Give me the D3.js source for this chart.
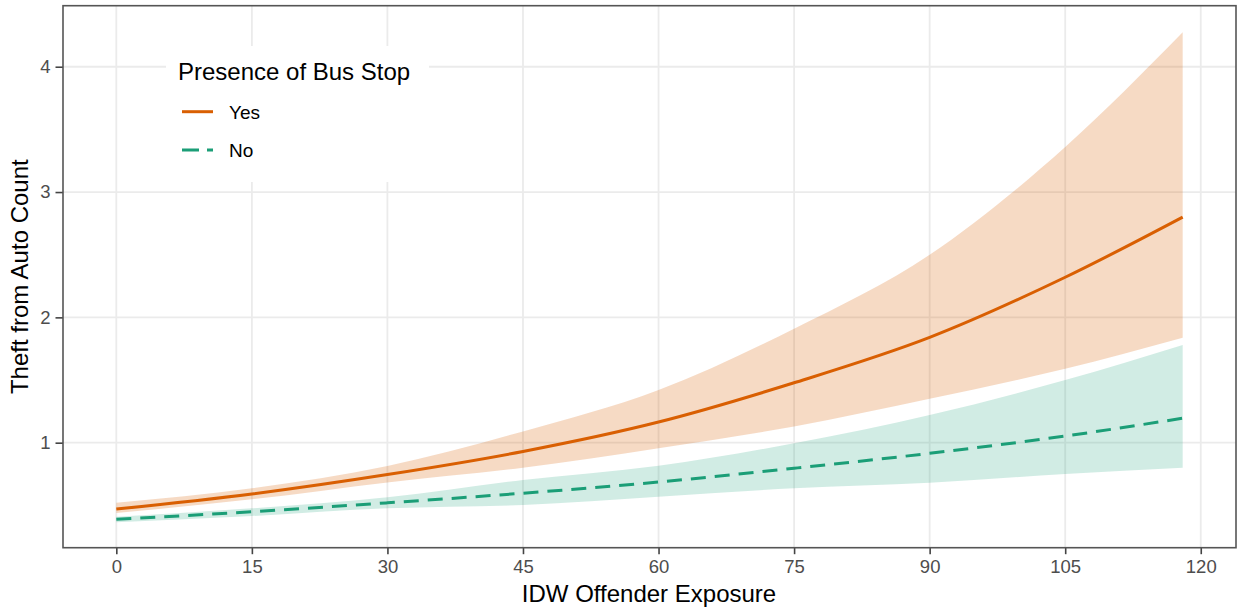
<!DOCTYPE html>
<html>
<head>
<meta charset="utf-8">
<script src="https://cdn.jsdelivr.net/npm/d3@7"></script>
<style>
  html, body { margin: 0; padding: 0; background: #fff; }
  svg { display: block; font-family: "Liberation Sans", Arial, sans-serif; }
</style>
</head>
<body>
<svg id="chart" width="1237" height="609"></svg>
<script>
// Predicted theft-from-auto counts by offender exposure, with 95% bands
const exposure = [0, 15, 30, 45, 60, 75, 90, 105, 118];

const yesFit   = [0.470, 0.591, 0.746, 0.930, 1.165, 1.478, 1.840, 2.320, 2.800];
const yesUpper = [0.521, 0.636, 0.814, 1.090, 1.420, 1.910, 2.500, 3.360, 4.275];
const yesLower = [0.438, 0.548, 0.683, 0.800, 0.956, 1.130, 1.350, 1.590, 1.838];

const noFit    = [0.389, 0.449, 0.520, 0.597, 0.686, 0.796, 0.915, 1.053, 1.195];
const noUpper  = [0.409, 0.476, 0.564, 0.702, 0.816, 0.995, 1.221, 1.500, 1.780];
const noLower  = [0.365, 0.415, 0.476, 0.503, 0.569, 0.636, 0.681, 0.750, 0.800];

const xTicks = [0, 15, 30, 45, 60, 75, 90, 105, 120];
const yTicks = [1, 2, 3, 4];

const legendTitle = "Presence of Bus Stop";
const seriesNames = ["Yes", "No"];
const seriesColors = ["#D95F02", "#1B9E77"];

const svg = d3.select("#chart");
const panel = { left: 63, right: 1236, top: 5.7, bottom: 547.7 };

const x = d3.scaleLinear().domain([-5.9, 123.9]).range([panel.left, panel.right]);
const y = d3.scaleLinear().domain([0.162, 4.487]).range([panel.bottom, panel.top]);

// grid
const grid = svg.append("g");
grid.selectAll("line.v").data(xTicks).join("line")
  .attr("x1", d => x(d)).attr("x2", d => x(d))
  .attr("y1", panel.top).attr("y2", panel.bottom)
  .attr("stroke", "#EBEBEB").attr("stroke-width", 1.8);
grid.selectAll("line.h").data(yTicks).join("line")
  .attr("x1", panel.left).attr("x2", panel.right)
  .attr("y1", d => y(d)).attr("y2", d => y(d))
  .attr("stroke", "#EBEBEB").attr("stroke-width", 1.8);

const rows = (fit, lo, hi) => exposure.map((e, i) => ({ e, fit: fit[i], lo: lo[i], hi: hi[i] }));
const series = [
  { name: "Yes", color: seriesColors[0], data: rows(yesFit, yesLower, yesUpper), dash: null, fillOpacity: 0.23 },
  { name: "No",  color: seriesColors[1], data: rows(noFit, noLower, noUpper),   dash: "15 9", fillOpacity: 0.2 }
];

const area = d3.area().curve(d3.curveMonotoneX)
  .x(d => x(d.e)).y0(d => y(d.lo)).y1(d => y(d.hi));
const line = d3.line().curve(d3.curveMonotoneX)
  .x(d => x(d.e)).y(d => y(d.fit));

svg.append("g").selectAll("path").data(series).join("path")
  .attr("d", s => area(s.data))
  .attr("fill", s => s.color).attr("fill-opacity", s => s.fillOpacity);

svg.append("g").selectAll("path").data(series).join("path")
  .attr("d", s => line(s.data))
  .attr("fill", "none").attr("stroke", s => s.color).attr("stroke-width", 3)
  .attr("stroke-dasharray", s => s.dash);

// axes
const xAxis = svg.append("g").attr("transform", `translate(0,${panel.bottom})`)
  .call(d3.axisBottom(x).tickValues(xTicks).tickSize(6.5).tickPadding(7).tickFormat(d3.format("d")));
const yAxis = svg.append("g").attr("transform", `translate(${panel.left},0)`)
  .call(d3.axisLeft(y).tickValues(yTicks).tickSize(7.5).tickPadding(5).tickFormat(d3.format("d")));
[xAxis, yAxis].forEach(a => {
  a.select(".domain").remove();
  a.selectAll(".tick line").attr("stroke", "#444").attr("stroke-width", 1.6);
  a.selectAll(".tick text").attr("fill", "#4D4D4D").attr("font-size", 18.5)
    .attr("font-family", "'Liberation Sans', Arial, sans-serif");
});
xAxis.selectAll(".tick text").attr("dy", "0.71em").attr("y", 12);

// panel border
svg.append("rect")
  .attr("x", panel.left).attr("y", panel.top)
  .attr("width", panel.right - panel.left).attr("height", panel.bottom - panel.top)
  .attr("fill", "none").attr("stroke", "#555").attr("stroke-width", 1.6);

// axis titles
svg.append("text").attr("x", 649).attr("y", 602).attr("text-anchor", "middle")
  .attr("font-size", 24).attr("fill", "#000").text("IDW Offender Exposure");
svg.append("text").attr("transform", "translate(28,276.7) rotate(-90)").attr("text-anchor", "middle")
  .attr("font-size", 24).attr("fill", "#000").text("Theft from Auto Count");

// legend
const legend = svg.append("g");
legend.append("rect").attr("x", 166).attr("y", 46).attr("width", 263).attr("height", 136).attr("fill", "#fff");
legend.append("text").attr("x", 178).attr("y", 80).attr("font-size", 24).attr("fill", "#000").text(legendTitle);
const keyRows = legend.selectAll("g.key").data(series).join("g")
  .attr("transform", (d, i) => `translate(0,${[111.7, 150][i]})`);
keyRows.append("line").attr("x1", 182).attr("x2", 213).attr("y1", 0).attr("y2", 0)
  .attr("stroke", d => d.color).attr("stroke-width", 3)
  .attr("stroke-dasharray", d => d.name === "No" ? "17 8" : null);
keyRows.append("text").attr("x", 229).attr("y", 7).attr("font-size", 19).attr("fill", "#000")
  .text((d, i) => seriesNames[i]);
</script>
</body>
</html>
